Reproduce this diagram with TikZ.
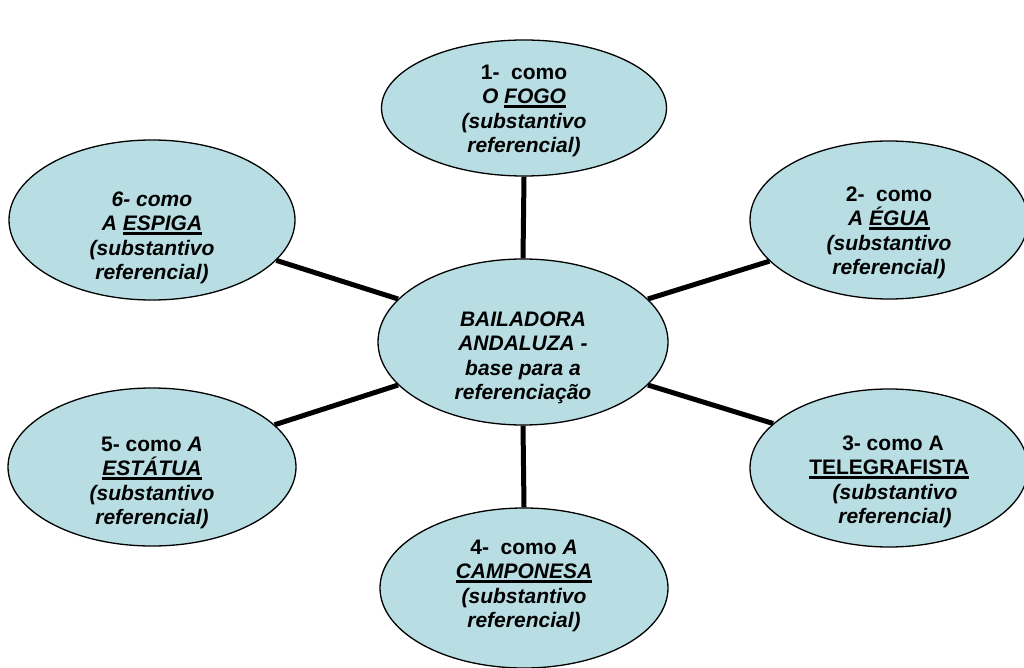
\documentclass[tikz,border=0pt]{standalone}
\usepackage{fontspec}
\setmainfont{Liberation Sans}
\usetikzlibrary{shapes.geometric}
\definecolor{bubblefill}{RGB}{184,222,227}
\newcommand{\uln}[1]{\sbox0{#1}\rlap{\rule[-4pt]{\wd0}{2.5pt}}\box0}

\begin{document}
\begin{tikzpicture}[x=1pt, y=-1pt,
    bubble/.style={ellipse, draw, line width=1.3pt, fill=bubblefill, inner sep=0pt},
    caption/.style={inner sep=0pt, align=center, font=\fontsize{21}{24.5}\selectfont\bfseries},
    spoke/.style={line width=5pt}]
    \useasboundingbox (0,0) rectangle (1024,668);

    % the six ellipses round the centre one
    \node[bubble, minimum width=290pt, minimum height=166pt] (base) at (523,342) {};
    \node[bubble, minimum width=285pt, minimum height=136pt] (fogo) at (524,108) {};
    \node[bubble, minimum width=278pt, minimum height=158pt] (egua) at (889,220) {};
    \node[bubble, minimum width=278pt, minimum height=158pt] (telegrafista) at (889,468) {};
    \node[bubble, minimum width=288pt, minimum height=160pt] (camponesa) at (524,588) {};
    \node[bubble, minimum width=288pt, minimum height=158pt] (estatua) at (152,467) {};
    \node[bubble, minimum width=286pt, minimum height=160pt] (espiga) at (152,220) {};

    % texts, set a little low in the ellipses
    \node[caption] (base text) at ([yshift=-16pt]base)
      {\textit{BAILADORA}\\ \textit{ANDALUZA -}\\ \textit{base para a}\\ \textit{referenciação}};
    \node[caption] (fogo text) at ([yshift=-3pt]fogo)
      {1-\ \ como\\ \textit{O \uln{FOGO}}\\ \textit{(substantivo}\\ \textit{referencial)}};
    \node[caption] (egua text) at ([yshift=-13pt]egua)
      {2-\ \ como\\ \textit{A \uln{ÉGUA}}\\ \textit{(substantivo}\\ \textit{referencial)}};
    \node[caption] (telegrafista text) at ([yshift=-14pt]telegrafista)
      {\hspace*{8pt}3- como A\\ \uln{TELEGRAFISTA}\\ \hspace*{12pt}\textit{(substantivo}\\ \hspace*{12pt}\textit{referencial)}};
    \node[caption] (camponesa text) at ([yshift=2pt]camponesa)
      {4-\ \ como \textit{A}\\ \textit{\uln{CAMPONESA}}\\ \textit{(substantivo}\\ \textit{referencial)}};
    \node[caption] (estatua text) at ([yshift=-16pt]estatua)
      {5- como \textit{A}\\ \textit{\uln{ESTÁTUA}}\\ \textit{(substantivo}\\ \textit{referencial)}};
    \node[caption] (espiga text) at ([yshift=-18pt]espiga)
      {\textit{6- como}\\ \textit{A \uln{ESPIGA}}\\ \textit{(substantivo}\\ \textit{referencial)}};

    \draw[spoke] (base.north) -- (fogo.south);
    \draw[spoke] (base.19) -- (egua.199);
    \draw[spoke] (base.-19) -- (telegrafista.159);
    \draw[spoke] (base.south) -- (camponesa.north);
    \draw[spoke] (base.199) -- (estatua.19);
    \draw[spoke] (base.161) -- (espiga.342);
  \end{tikzpicture}
\end{document}
